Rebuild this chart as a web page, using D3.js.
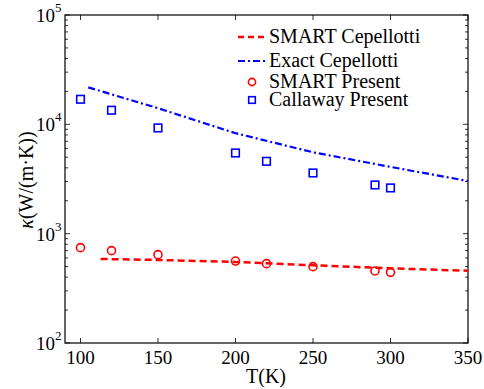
<!DOCTYPE html>
<html><head><meta charset="utf-8">
<script src="https://cdn.jsdelivr.net/npm/d3@7"></script>
</head><body><svg id="c" width="484" height="389"></svg>
<script>
const xTicks=[100,150,200,250,300,350];
const yTickExp=[2,3,4,5];
const smartCepT=[113,150,200,250,300,350];
const smartCepK=[587,575,551,514,482,458];
const exactCepT=[105,150,200,250,300,350];
const exactCepK=[21800,14040,8300,5550,4080,3030];
const presT=[100,120,150,200,220,250,290,300];
const smartPresK=[745,699,643,562,532,499,456,443];
const callawayPresK=[16950,13460,9270,5470,4590,3590,2790,2620];
const legendLabels=["SMART Cepellotti","Exact Cepellotti","SMART Present","Callaway Present"];

d3.select("body").style("margin","0");
d3.select("#c").style("display","block");
const FONT="Liberation Serif";
const L=65,R=468,T=15,B=343;
const svg=d3.select("#c");
const x=d3.scaleLinear().domain([90,350]).range([L,R]);
const y=d3.scaleLog().domain([100,100000]).range([B,T]);

const g=svg.append("g").attr("stroke","#000").attr("stroke-width",0.8);
const yAll=[];
for(let e=2;e<5;e++)for(let m=1;m<10;m++)yAll.push(m*Math.pow(10,e));
yAll.push(1e5);
yAll.forEach(v=>{
  const major=Math.abs(Math.log10(v)%1)<1e-9;
  const len=major?5:3;
  g.append("line").attr("x1",L).attr("x2",L+len).attr("y1",y(v)).attr("y2",y(v));
  g.append("line").attr("x1",R).attr("x2",R-len).attr("y1",y(v)).attr("y2",y(v));
});
xTicks.forEach(v=>{
  g.append("line").attr("x1",x(v)).attr("x2",x(v)).attr("y1",B).attr("y2",B-5);
  g.append("line").attr("x1",x(v)).attr("x2",x(v)).attr("y1",T).attr("y2",T+5);
});
svg.append("rect").attr("x",L).attr("y",T).attr("width",R-L).attr("height",B-T)
  .attr("fill","none").attr("stroke","#000").attr("stroke-width",1.2);

// text drawn at 22px and scaled to the wanted size
function label(xp,yp,size,anchor,rot){
  const k=size/22;
  const gg=svg.append("g").attr("transform",`translate(${xp},${yp})${rot?" rotate(-90)":""} scale(${k})`);
  return gg.append("text").attr("x",0).attr("y",0).attr("font-size",22)
    .style("font-family",FONT).attr("fill","#000").attr("text-anchor",anchor);
}
xTicks.forEach(v=>{ label(x(v),B+21,19,"middle").text(v); });
yTickExp.forEach(e=>{
  const yy=y(Math.pow(10,e));
  label(L-10,yy+7,19,"end").text("10");
  label(L-10,yy-3,13,"start").text(e);
});
label(266,383,20,"middle").text("T(K)");
const yl=label(33,180,20,"middle",true);
yl.append("tspan").attr("font-style","italic").text("κ");
yl.append("tspan").text("(W/(m·K))");

const line=d3.line().x(d=>x(d[0])).y(d=>y(d[1]));
svg.append("path").datum(exactCepT.map((t,i)=>[t,exactCepK[i]])).attr("d",line)
  .attr("fill","none").attr("stroke","#0000ff").attr("stroke-width",2.2).attr("stroke-dasharray","7,3,2,3");
svg.append("path").datum(smartCepT.map((t,i)=>[t,smartCepK[i]])).attr("d",line)
  .attr("fill","none").attr("stroke","#ff0000").attr("stroke-width",2.5).attr("stroke-dasharray","7,4");

svg.selectAll("circle.sp").data(presT.map((t,i)=>[t,smartPresK[i]])).enter().append("circle")
  .attr("cx",d=>x(d[0])).attr("cy",d=>y(d[1])).attr("r",4).attr("fill","none").attr("stroke","#ff0000").attr("stroke-width",1.6);
svg.selectAll("rect.cp").data(presT.map((t,i)=>[t,callawayPresK[i]])).enter().append("rect")
  .attr("x",d=>x(d[0])-3.8).attr("y",d=>y(d[1])-3.8).attr("width",7.6).attr("height",7.6)
  .attr("fill","none").attr("stroke","#0000ff").attr("stroke-width",1.6);

const ly=[37,61,82,100], lx0=238, lx1=266, tx=269;
svg.append("line").attr("x1",lx0).attr("x2",lx1).attr("y1",ly[0]).attr("y2",ly[0])
  .attr("stroke","#ff0000").attr("stroke-width",2.5).attr("stroke-dasharray","6,4");
svg.append("line").attr("x1",lx0).attr("x2",lx1).attr("y1",ly[1]).attr("y2",ly[1])
  .attr("stroke","#0000ff").attr("stroke-width",2.2).attr("stroke-dasharray","7,3,2,3");
svg.append("circle").attr("cx",252).attr("cy",ly[2]).attr("r",3.6).attr("fill","none").attr("stroke","#ff0000").attr("stroke-width",1.6);
svg.append("rect").attr("x",252-3.3).attr("y",ly[3]-3.3).attr("width",6.6).attr("height",6.6).attr("fill","none").attr("stroke","#0000ff").attr("stroke-width",1.6);
legendLabels.forEach((s,i)=>{ label(tx,ly[i]+6,20,"start").text(s); });
</script></body></html>
